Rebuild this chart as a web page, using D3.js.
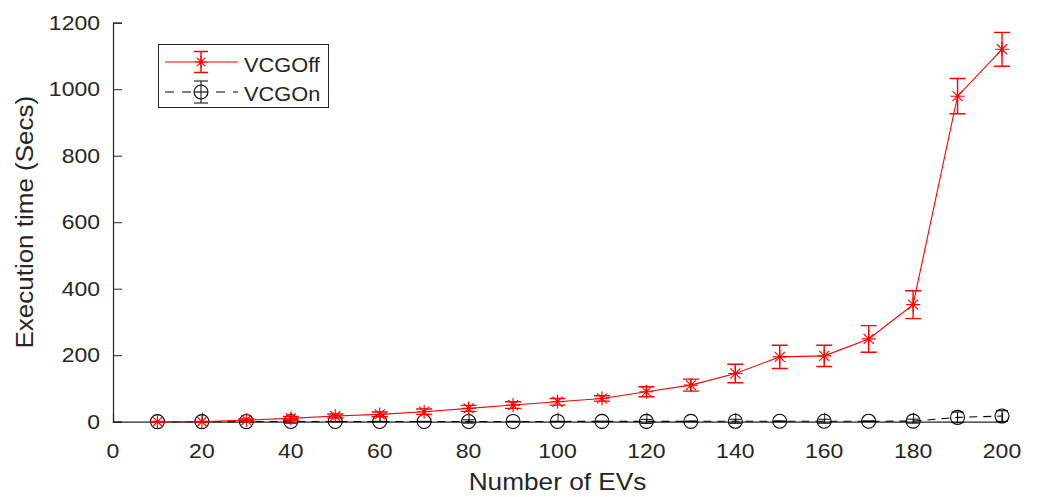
<!DOCTYPE html>
<html>
<head>
<meta charset="utf-8">
<script src="https://cdn.jsdelivr.net/npm/d3@7"></script>
<style>
html,body{margin:0;padding:0;background:#fff;}
svg{display:block;font-family:"Liberation Sans",Arial,sans-serif;}
</style>
</head>
<body>
<svg id="chart" width="1038" height="497"></svg>
<script>
// ---- data ----
const evCounts = [10,20,30,40,50,60,70,80,90,100,110,120,130,140,150,160,170,180,190,200];
const vcgOff = [0,0,5,10,17,22,30,40,50,60,70,90,110,145,195,198,249,352,979,1120];
const vcgOffErr = [1,1,3,6,6,7,8,9,10,10,8,15,18,28,35,32,40,42,53,51];
const vcgOn = [0.3,0.3,0.4,0.5,0.5,0.6,0.6,0.7,0.8,0.8,0.9,1,1.1,1.2,1.3,1.4,1.5,1.7,13,17];
const vcgOnErr = [0.3,0.3,0.3,5,0.5,0.5,0.5,5,0.6,0.6,0.7,6,0.8,6,1,6,1,6,16,16];
const xTicks = [0,20,40,60,80,100,120,140,160,180,200];
const yTicks = [0,200,400,600,800,1000,1200];
const seriesNames = ["VCGOff","VCGOn"];
const xLabel = "Number of EVs";
const yLabel = "Execution time (Secs)";

// ---- layout ----
const svg = d3.select("#chart");
const pLeft = 113, pRight = 1002, pTop = 22.7, pBottom = 421.7;
const x = d3.scaleLinear().domain([0,200]).range([pLeft,pRight]);
const y = d3.scaleLinear().domain([0,1200]).range([pBottom,pTop]);
const axisColor = "#262626";

function stretchedText(g, txt, tx, ty, size, sx, anchor, rot) {
  return g.append("text")
    .attr("transform", `translate(${tx},${ty})` + (rot ? ` rotate(${rot})` : "") + ` scale(${sx},1)`)
    .attr("text-anchor", anchor)
    .attr("font-size", size)
    .attr("fill", axisColor)
    .text(txt);
}

// axes
const xAxis = d3.axisBottom(x).tickValues(xTicks).tickSize(-9).tickFormat("");
const yAxis = d3.axisLeft(y).tickValues(yTicks).tickSize(-9).tickFormat("");
const gx = svg.append("g").attr("transform",`translate(0,${pBottom})`).call(xAxis);
const gy = svg.append("g").attr("transform",`translate(${pLeft},0)`).call(yAxis);
[gx,gy].forEach(g=>{
  g.select(".domain").attr("stroke",axisColor).attr("stroke-width",1.2);
  g.selectAll(".tick line").attr("stroke",axisColor).attr("stroke-width",1);
});
// tick labels
const labels = svg.append("g");
xTicks.forEach(t => stretchedText(labels, String(t), x(t), pBottom+36.5, 20, 1.15, "middle"));
yTicks.forEach(t => stretchedText(labels, String(t), 100, y(t)+7.2, 20, 1.15, "end"));
stretchedText(labels, xLabel, (pLeft+pRight)/2, 490, 23, 1.14, "middle");
stretchedText(labels, yLabel, 33, (pTop+pBottom)/2, 23, 1.13, "middle", -90);

// ---- series drawing helpers ----
function drawStar(g, cx, cy, s, color) {
  const d = s*0.72;
  g.append("path")
    .attr("d", `M${cx-s},${cy}H${cx+s}M${cx},${cy-s}V${cy+s}M${cx-d},${cy-d}L${cx+d},${cy+d}M${cx-d},${cy+d}L${cx+d},${cy-d}`)
    .attr("stroke", color).attr("stroke-width", 1.1).attr("fill","none");
}
function drawErr(g, cx, yT, yB, cap, color, w) {
  g.append("path")
    .attr("d", `M${cx},${yT}V${yB}M${cx-cap},${yT}H${cx+cap}M${cx-cap},${yB}H${cx+cap}`)
    .attr("stroke", color).attr("stroke-width", w).attr("fill","none");
}

const plot = svg.append("g");
const onData = evCounts.map((e,i)=>({x:e, v:vcgOn[i], err:vcgOnErr[i]}));
const offData = evCounts.map((e,i)=>({x:e, v:vcgOff[i], err:vcgOffErr[i]}));
const line = d3.line().x(d=>x(d.x)).y(d=>y(d.v));

// VCGOn (black dashed, circles)
plot.append("path").datum(onData).attr("d", line)
  .attr("fill","none").attr("stroke","#000").attr("stroke-width",1.1)
  .attr("stroke-dasharray","8,6");
onData.forEach(d=>{
  drawErr(plot, x(d.x), y(d.v+d.err), y(d.v-d.err), 6, "#000", 1);
});
plot.selectAll("circle.on").data(onData).enter().append("circle")
  .attr("cx",d=>x(d.x)).attr("cy",d=>y(d.v)).attr("r",7)
  .attr("fill","none").attr("stroke","#000").attr("stroke-width",1.1);

// VCGOff (red solid, stars)
plot.append("path").datum(offData).attr("d", line)
  .attr("fill","none").attr("stroke","#ff0000").attr("stroke-width",1.1);
offData.forEach(d=>{
  drawErr(plot, x(d.x), y(d.v+d.err), y(d.v-d.err), 8, "#ff0000", 1.4);
  drawStar(plot, x(d.x), y(d.v), 7, "#ff0000");
});

// ---- legend ----
const lg = svg.append("g");
lg.append("rect").attr("x",158.5).attr("y",44.5).attr("width",170).attr("height",63)
  .attr("fill","#fff").attr("stroke",axisColor).attr("stroke-width",1);
// row 1
lg.append("line").attr("x1",165).attr("x2",238).attr("y1",62).attr("y2",62)
  .attr("stroke","#ff0000").attr("stroke-width",1.1);
drawErr(lg, 201, 51.5, 72.5, 7, "#ff0000", 1.4);
drawStar(lg, 201, 62, 6, "#ff0000");
stretchedText(lg, seriesNames[0], 244, 71.5, 20, 1.09, "start");
// row 2
lg.append("line").attr("x1",165).attr("x2",238).attr("y1",92).attr("y2",92)
  .attr("stroke","#000").attr("stroke-width",1.1).attr("stroke-dasharray","9,8");
drawErr(lg, 201, 81, 103, 7, "#000", 1);
lg.append("circle").attr("cx",201).attr("cy",92).attr("r",7)
  .attr("fill","#fff").attr("stroke","#000").attr("stroke-width",1.1);
lg.append("line").attr("x1",201).attr("x2",201).attr("y1",85).attr("y2",99)
  .attr("stroke","#000").attr("stroke-width",1);
lg.append("line").attr("x1",194).attr("x2",208).attr("y1",92).attr("y2",92)
  .attr("stroke","#000").attr("stroke-width",1.1);
stretchedText(lg, seriesNames[1], 244, 101, 20, 1.09, "start");
</script>
</body>
</html>
